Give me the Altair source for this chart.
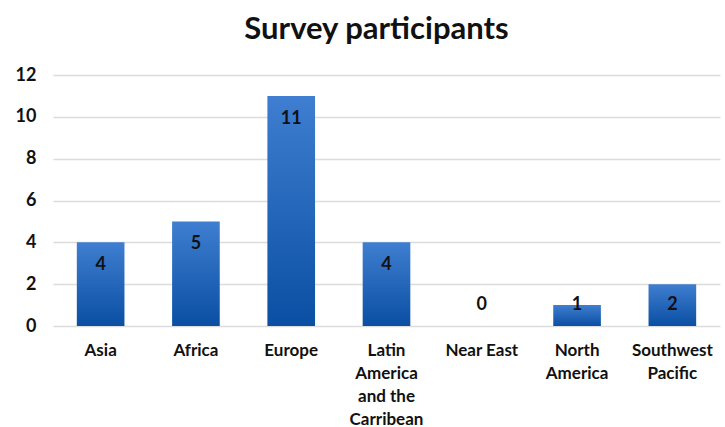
import altair as alt
import pandas as pd

categories = ["Asia", "Africa", "Europe", "Latin|America|and the|Carribean",
              "Near East", "North|America", "Southwest|Pacific"]
values = [4, 5, 11, 4, 0, 1, 2]
y_ticks = [0, 2, 4, 6, 8, 10, 12]

df = pd.DataFrame({"region": categories, "participants": values})

FONT = "Lato"

x_enc = alt.X("region:N", sort=categories, title=None,
              scale=alt.Scale(paddingInner=0.5, paddingOuter=0.25),
              axis=alt.Axis(labelAngle=0, labelFont=FONT, labelFontSize=17,
                            labelFontWeight="bold", labelColor="#111111",
                            labelPadding=24, labelLineHeight=23,
                            labelExpr="split(datum.label, '|')",
                            labelOverlap=False, labelBound=False,
                            domain=False, ticks=False, labelBaseline="middle"))

bars = alt.Chart(df).mark_bar(
    color=alt.Gradient(gradient="linear", x1=0, x2=0, y1=0, y2=1,
                       stops=[alt.GradientStop(color="#3F7ED0", offset=0),
                              alt.GradientStop(color="#0A4FA3", offset=1)]),
).encode(
    x=x_enc,
    y=alt.Y("participants:Q", title=None,
            scale=alt.Scale(domain=[0, 12], nice=False),
            axis=alt.Axis(values=y_ticks, labelFont=FONT, labelFontSize=18,
                          labelFontWeight="bold", labelColor="#111111",
                          labelPadding=17, domain=False, ticks=False,
                          grid=True, gridColor="#dcdcdc", gridWidth=1.3))
)

labels = alt.Chart(df).transform_calculate(
    ly="max(datum.participants - 1.1, 1.0)"
).mark_text(font=FONT, fontSize=18, fontWeight="bold", color="#111111",
            baseline="middle").encode(
    x=alt.X("region:N", sort=categories),
    y=alt.Y("ly:Q"),
    text=alt.Text("participants:Q")
)

chart = alt.layer(bars, labels).properties(
    width=667, height=251,
    background="white",
    title=alt.TitleParams("Survey participants", font=FONT, fontSize=31,
                          fontWeight="bold", color="#111111", anchor="middle",
                          offset=20, dx=-10),
    autosize=alt.AutoSizeParams(type="none"),
    padding={"left": 53, "top": 75, "right": 5, "bottom": 101}
).configure_view(stroke=None)

chart.save("out.html", embed_options={"renderer": "svg", "actions": False})
